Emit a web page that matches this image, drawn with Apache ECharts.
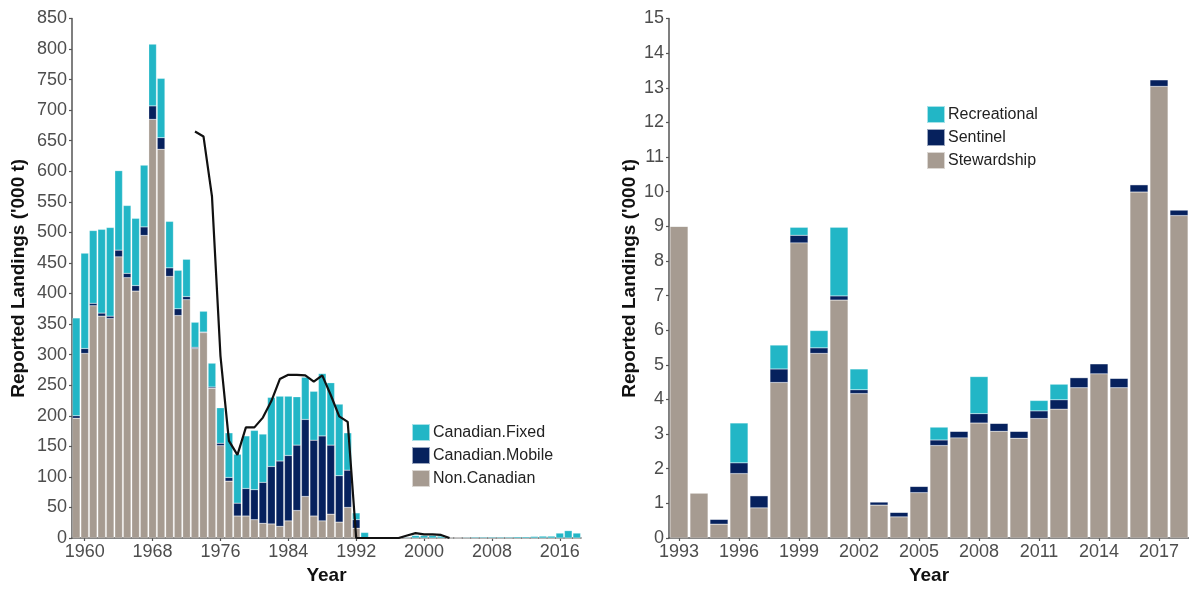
<!DOCTYPE html>
<html>
<head>
<meta charset="utf-8">
<script src="https://cdn.jsdelivr.net/npm/echarts@6/dist/echarts.min.js"></script>
<style>
html,body{margin:0;padding:0;background:#fff;}
#chart{width:1189px;height:590px;}
</style>
</head>
<body>
<div id="chart"></div>
<script>
// ---------- Left panel data (years 1959-2018) ----------
const yearsLeft = [];
for (let y = 1959; y <= 2018; y++) yearsLeft.push(String(y));

const nonCanadian = [196,302,380,363,359,460,426,404,495,685,636,428,364,390,310,336,245,151,93,36,
  36,30,24,23,19,28,45,68,36,28,39,26,50,16,0,0,0,0,0,0,
  0,0,0,0,0,0,0,0,0,0,0,0,0,0,0,0,0,0,0,0];
const canadianMobile = [4,8,4,5,4,11,7,9,14,22,19,14,11,5,2,1,2,4,6,21,
  45,49,67,94,107,107,107,126,124,139,113,76,61,14,0,0,0,0,0,0,
  0,0,0,0,0,0,0,0,0,0,0,0,0,0,0,0,0,0,0,0];
const canadianFixed = [160,156,119,137,145,130,111,110,101,101,97,76,63,61,41,34,39,58,73,80,
  86,97,79,113,106,97,79,69,80,102,102,117,61,11,9,0.5,0.3,1,0.5,1,
  4,4,4,3,0.5,0.5,1,1.5,1.5,1.5,1.5,1.5,2,2,2.5,3,3,8,12,8];
const lineValues = [null,null,null,null,null,null,null,null,null,null,null,null,null,null,665,657,559,298,159,136,
  181,181,197,224,260,267,267,266,256,266,234,199,190,0,0,0,0,0,0,4,
  8,6,6,5,0,null,null,null,null,null,null,null,null,null,null,null,null,null,null,null];

// ---------- Right panel data (years 1993-2018) ----------
const yearsRight = [];
for (let y = 1993; y <= 2018; y++) yearsRight.push(String(y));

const stewardship = [9.0,1.3,0.40,1.86,0.87,4.49,8.52,5.33,6.87,4.17,0.95,0.61,1.31,2.67,2.89,3.32,3.08,2.88,3.45,3.72,4.34,4.74,4.34,9.99,13.04,9.31];
const sentinel    = [0,0,0.14,0.31,0.35,0.39,0.22,0.16,0.12,0.11,0.09,0.13,0.18,0.16,0.19,0.27,0.23,0.20,0.22,0.27,0.29,0.29,0.27,0.21,0.19,0.16];
const recreational= [0,0,0,1.15,0,0.69,0.23,0.50,1.98,0.60,0,0,0,0.37,0,1.07,0,0,0.30,0.45,0,0,0,0,0,0];

const leftLabelYears = (i, v) => (Number(v) - 1960) % 8 === 0;
const rightLabelYears = (i, v) => (Number(v) - 1993) % 3 === 0;

const TEAL = '#22b6c6', NAVY = '#06215d', TAUPE = '#a69b91';
const TXT = '#4d4d4d';
const FONT = 'Liberation Sans, Arial, sans-serif';

const chart = echarts.init(document.getElementById('chart'), null, {renderer:'canvas'});

const axisCommonX = (data, fn) => ({
  type: 'category',
  data: data,
  boundaryGap: true,
  name: 'Year',
  nameLocation: 'middle',
  nameGap: 28,
  nameTextStyle: {fontSize: 19, fontWeight: 'bold', color: '#111', fontFamily: FONT},
  axisLine: {show: true, lineStyle: {color: '#555', width: 1.5}},
  axisTick: {show: true, alignWithLabel: true, interval: fn, length: 3, lineStyle: {color: '#555', width: 1.2}},
  axisLabel: {interval: fn, fontSize: 18, color: TXT, margin: 5, fontFamily: FONT},
  splitLine: {show: false}
});

const axisCommonY = (max, interval, gap) => ({
  type: 'value',
  min: 0, max: max, interval: interval,
  name: "Reported Landings ('000 t)",
  nameLocation: 'middle',
  nameGap: gap,
  nameTextStyle: {fontSize: 19, fontWeight: 'bold', color: '#111', fontFamily: FONT},
  axisLine: {show: true, lineStyle: {color: '#555', width: 1.5}},
  axisTick: {show: true, length: 3, lineStyle: {color: '#555', width: 1.2}},
  axisLabel: {fontSize: 18, color: TXT, margin: 5, fontFamily: FONT},
  splitLine: {show: false}
});

const barStyle = (c) => ({color: c, borderColor: 'rgba(255,255,255,0.6)', borderWidth: 0.4});

const option = {
  animation: false,
  backgroundColor: '#fff',
  grid: [
    {left: 72, top: 18.5, width: 509, bottom: 45.7},
    {left: 669, top: 18.5, width: 523, bottom: 45.7}
  ],
  xAxis: [
    Object.assign(axisCommonX(yearsLeft, leftLabelYears), {gridIndex: 0}),
    Object.assign(axisCommonX(yearsRight, rightLabelYears), {gridIndex: 1})
  ],
  yAxis: [
    Object.assign(axisCommonY(850, 50, 44), {gridIndex: 0}),
    Object.assign(axisCommonY(15, 1, 30), {gridIndex: 1})
  ],
  legend: [
    {
      data: ['Canadian.Fixed', 'Canadian.Mobile', 'Non.Canadian'],
      orient: 'vertical', left: 406, top: 418,
      itemWidth: 18, itemHeight: 17, itemGap: 4,
      icon: 'rect',
      textStyle: {fontSize: 16, color: '#222', fontFamily: FONT, padding: [0,0,0,-2]}
    },
    {
      data: ['Recreational', 'Sentinel', 'Stewardship'],
      orient: 'vertical', left: 921, top: 100,
      itemWidth: 18, itemHeight: 17, itemGap: 4,
      icon: 'rect',
      textStyle: {fontSize: 16, color: '#222', fontFamily: FONT, padding: [0,0,0,-2]}
    }
  ],
  series: [
    {name: 'Non.Canadian', type: 'bar', stack: 'L', xAxisIndex: 0, yAxisIndex: 0, data: nonCanadian, barCategoryGap: '10%', itemStyle: barStyle(TAUPE)},
    {name: 'Canadian.Mobile', type: 'bar', stack: 'L', xAxisIndex: 0, yAxisIndex: 0, data: canadianMobile, barCategoryGap: '10%', itemStyle: barStyle(NAVY)},
    {name: 'Canadian.Fixed', type: 'bar', stack: 'L', xAxisIndex: 0, yAxisIndex: 0, data: canadianFixed, barCategoryGap: '10%', itemStyle: barStyle(TEAL)},
    {name: 'Total line', type: 'line', xAxisIndex: 0, yAxisIndex: 0, data: lineValues, showSymbol: false, symbol: 'none', connectNulls: false,
      lineStyle: {color: '#111', width: 2.2}, z: 10},
    {name: 'Stewardship', type: 'bar', stack: 'R', xAxisIndex: 1, yAxisIndex: 1, data: stewardship, barCategoryGap: '10%', itemStyle: barStyle(TAUPE)},
    {name: 'Sentinel', type: 'bar', stack: 'R', xAxisIndex: 1, yAxisIndex: 1, data: sentinel, barCategoryGap: '10%', itemStyle: barStyle(NAVY)},
    {name: 'Recreational', type: 'bar', stack: 'R', xAxisIndex: 1, yAxisIndex: 1, data: recreational, barCategoryGap: '10%', itemStyle: barStyle(TEAL)}
  ]
};
chart.setOption(option);
</script>
</body>
</html>
